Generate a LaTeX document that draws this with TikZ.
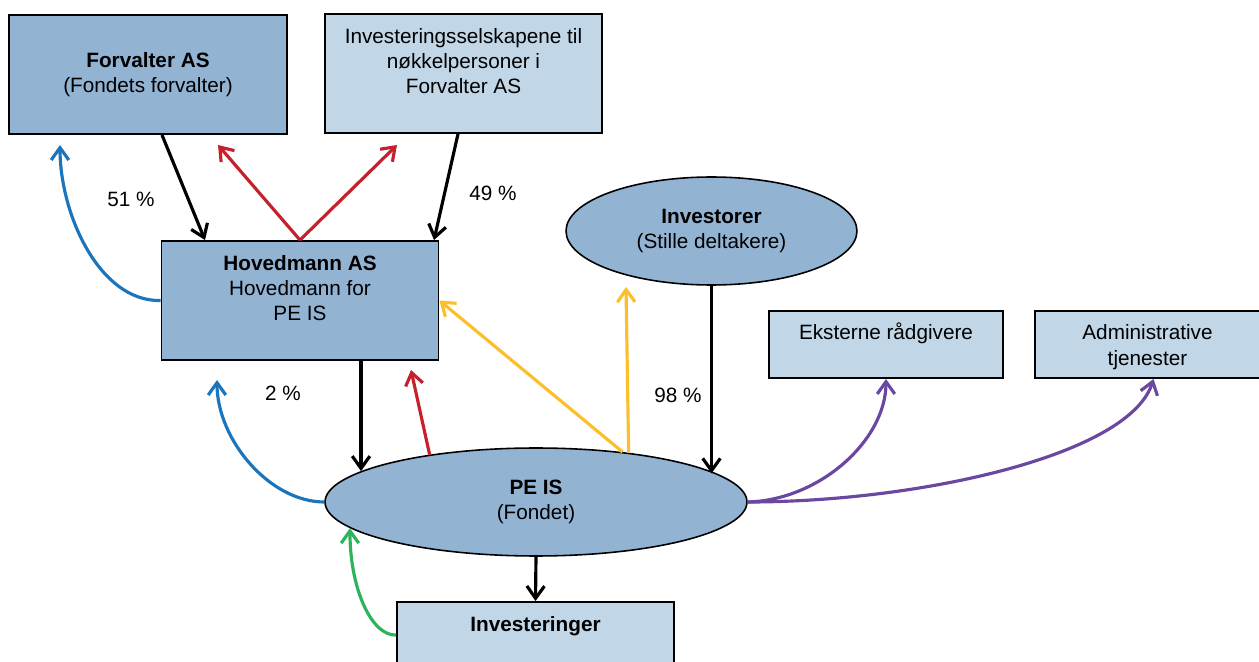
\documentclass[tikz,border=0pt]{standalone}
\usepackage{fontspec}
\setmainfont{Liberation Sans}
\usetikzlibrary{arrows.meta,calc,shapes.geometric}
\definecolor{fonddark}{HTML}{93B3D3}
\definecolor{fondlight}{HTML}{C1D6E7}
\definecolor{flowblue}{HTML}{1B75BC}
\definecolor{flowred}{HTML}{C5202B}
\definecolor{flowyellow}{HTML}{FDBE2C}
\definecolor{flowpurple}{HTML}{6A48A0}
\definecolor{flowgreen}{HTML}{2EB35D}
% text hanging from the top edge of a box
\newcommand{\toptext}[3]{\parbox[c][#1][t]{#2}{\centering\rule{0pt}{0.58cm}#3}}

\begin{document}
\begin{tikzpicture}[x=0.02cm,y=-0.02cm,->,>={Straight Barb[length=7pt,width=10pt]}]
        \tikzstyle{firm}=[rectangle,draw=black,line width=1.1pt,fill=fonddark,inner sep=0pt,font=\fontsize{11.8}{14.5}\selectfont]
        \tikzstyle{party}=[firm,fill=fondlight]
        \tikzstyle{fund}=[ellipse,draw=black,line width=0.9pt,fill=fonddark,inner sep=0pt,align=center,font=\fontsize{11.8}{14.5}\selectfont]
        \tikzstyle{share}=[font=\fontsize{11.8}{14.5}\selectfont]
        \tikzstyle{edge}=[draw,line width=1.8pt]
        \useasboundingbox (0,0) rectangle (1259,662);
       \begin{scope}
         \node [firm,minimum width=5.56cm,minimum height=2.38cm,align=center] (fv) at (148,74.5) {\textbf{Forvalter AS}\\(Fondets forvalter)};
         \node [party] (ks) at (463.5,73.5) {\toptext{2.38cm}{5.54cm}{Investeringsselskapene til\\nøkkelpersoner i\\Forvalter AS}};
         \node [firm] (hov) at (300,300.5) {\toptext{2.38cm}{5.54cm}{\textbf{Hovedmann AS}\\Hovedmann for\\PE IS}};
         \node [fund,minimum width=5.82cm,minimum height=2.16cm] (invr) at (711.5,231) {\textbf{Investorer}\\(Stille deltakere)};
         \node [fund,minimum width=8.44cm,minimum height=2.16cm] (pe) at (536,502) {\textbf{PE IS}\\(Fondet)};
         \node [party] (eks) at (886,344.5) {\toptext{1.34cm}{4.68cm}{Eksterne rådgivere}};
         \node [party] (adm) at (1147.5,344.5) {\toptext{1.34cm}{4.5cm}{Administrative\\tjenester}};
         \node [party] (inv) at (535.5,662) {\toptext{2.4cm}{5.54cm}{\textbf{Investeringer}}};
         \node [share] (p51) at (131,199) {51 \%};
         \node [share] (p49) at (493,193) {49 \%};
         \node [share] (p2) at (283,393) {2 \%};
         \node [share] (p98) at (678,395) {98 \%};
         \coordinate (r1) at (218,145);
         \coordinate (r2) at (397,145);
         \coordinate (r3) at (411,370);
         \coordinate (b1) at (60,145);
         \coordinate (b2) at (217,380);
         \coordinate (y1) at (626,287);
         % ownership
         \path[edge] ($(fv.south)+(14,0)$) -- ($(hov.north)+(-95,0)$);
         \path[edge] ($(ks.south)+(-5.5,0)$) -- ($(hov.north)+(134,0)$);
         \path[edge] (hov.south -| pe.170) -- (pe.170);
         \path[edge] (invr.south) -- (invr.south |- pe.9);
         \path[edge] (pe.south) -- (inv.north);
         % red
         \path[edge,flowred] (hov.north) -- (r1);
         \path[edge,flowred] (hov.north) -- (r2);
         \path[edge,flowred] (pe.156) -- (r3);
         % blue
         \path[edge,flowblue] (hov.west) .. controls (100,302) and (60,215) .. (b1);
         \path[edge,flowblue] (pe.west) .. controls (270,502) and (217,440) .. (b2);
         % yellow
         \path[edge,flowyellow] (pe.30) -- (hov.east);
         \path[edge,flowyellow] (pe.28) -- (y1);
         % purple
         \path[edge,flowpurple] (pe.east) .. controls (820,500) and (886,440) .. (eks.south);
         \path[edge,flowpurple] (pe.east) .. controls (920,502) and (1130,455) .. ($(adm.south)+(6,0)$);
         % green
         \path[edge,flowgreen] ($(inv.north west)+(0,34)$) .. controls (372,636) and (350,590) .. (pe.188);
        \end{scope}
      \end{tikzpicture}
\end{document}
